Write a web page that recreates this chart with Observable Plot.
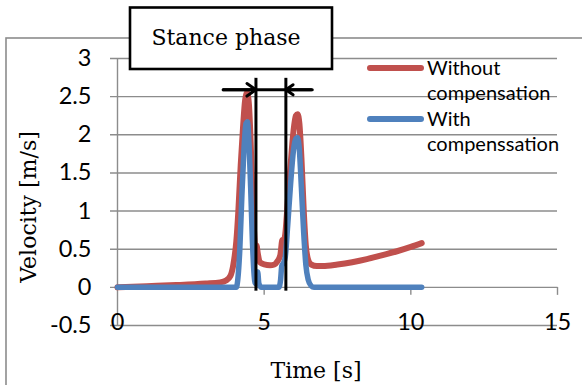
<!DOCTYPE html>
<html>
<head>
<meta charset="utf-8">
<script src="https://cdn.jsdelivr.net/npm/d3@7"></script>
<script src="https://cdn.jsdelivr.net/npm/@observablehq/plot@0.6"></script>
<style>
  html, body { margin: 0; padding: 0; background: #fff; }
  #chart { width: 582px; height: 385px; overflow: hidden; }
</style>
</head>
<body>
<div id="chart"></div>
<script>
// ---- data ----
const seriesNames = ["Without compensation", "With compenssation"];
const seriesColors = ["#C0504D", "#4F81BD"];

const timeRed = [0, 1, 2, 3, 3.5, 3.7, 3.85, 3.95, 4.05, 4.12, 4.2, 4.28, 4.35, 4.42, 4.48, 4.54, 4.6, 4.66, 4.7, 4.74, 4.78, 4.85, 5.0, 5.2, 5.35, 5.45, 5.55, 5.62, 5.66, 5.72, 5.8, 5.9, 6.0, 6.08, 6.14, 6.2, 6.27, 6.35, 6.42, 6.5, 6.6, 6.8, 7.0, 7.5, 8.0, 8.5, 9.0, 9.5, 10.0, 10.37];
const velRed  = [0, 0.015, 0.03, 0.05, 0.065, 0.09, 0.15, 0.3, 0.6, 1.0, 1.6, 2.1, 2.45, 2.55, 2.4, 1.9, 1.2, 0.7, 0.5, 0.55, 0.45, 0.33, 0.3, 0.29, 0.3, 0.34, 0.42, 0.62, 0.6, 0.7, 1.1, 1.6, 2.05, 2.25, 2.27, 2.15, 1.7, 1.0, 0.55, 0.36, 0.3, 0.28, 0.28, 0.3, 0.33, 0.37, 0.42, 0.47, 0.53, 0.58];

const timeBlue = [0, 4.05, 4.1, 4.17, 4.24, 4.31, 4.38, 4.43, 4.48, 4.54, 4.6, 4.66, 4.7, 4.74, 4.78, 4.82, 4.9, 5.5, 5.56, 5.6, 5.66, 5.72, 5.8, 5.9, 6.0, 6.08, 6.14, 6.2, 6.27, 6.35, 6.42, 6.5, 6.6, 6.7, 10.37];
const velBlue  = [0, 0, 0.1, 0.5, 1.2, 1.8, 2.15, 2.17, 1.9, 1.3, 0.6, 0.15, 0.05, 0.2, 0.2, 0.05, 0, 0, 0.1, 0.28, 0.32, 0.4, 0.8, 1.35, 1.8, 1.95, 1.96, 1.8, 1.3, 0.7, 0.3, 0.1, 0.02, 0, 0];

const stancePhase = [4.72, 5.74];   // start / end of stance phase [s]
const arrowLevel = 2.59;            // velocity level of the arrows
const arrowTails = [3.6, 6.64];     // arrow tails [s]

const xTicks = [0, 5, 10, 15];
const yTicks = [-0.5, 0, 0.5, 1, 1.5, 2, 2.5, 3];
const xLabel = "Time [s]";
const yLabel = "Velocity [m/s]";
const boxLabel = "Stance phase";

// ---- build tables ----
const red = timeRed.map((t, i) => ({t, v: velRed[i]}));
const blue = timeBlue.map((t, i) => ({t, v: velBlue[i]}));
const arrows = stancePhase.map((s, i) => ({x1: arrowTails[i], x2: s}));

const grid = "#8c8c8c";
const sans = "Lato, 'Open Sans', sans-serif";
const serif = "'DejaVu Serif', serif";

const chart = Plot.plot({
  width: 582,
  height: 385,
  marginLeft: 117,
  marginRight: 25,
  marginTop: 58,
  marginBottom: 60,
  style: {background: "transparent", overflow: "visible"},
  x: {domain: [0, 15], axis: null},
  y: {domain: [-0.5, 3], axis: null},
  marks: [
    Plot.ruleY(yTicks, {stroke: grid, strokeWidth: 1.4, insetLeft: -7}),
    Plot.ruleX([0], {stroke: grid, strokeWidth: 1.4}),
    Plot.ruleX(xTicks.slice(1), {y1: 0, y2: -0.105, stroke: grid, strokeWidth: 1.4}),
    Plot.text(yTicks, {x: 0, y: d => d, text: d => String(d), textAnchor: "end", dx: -26, fontSize: 23.5, fontFamily: sans, fill: "#000"}),
    Plot.text(xTicks, {x: d => d, y: -0.5, text: d => String(d), textAnchor: "middle", dy: -3, fontSize: 23.5, fontFamily: sans, fill: "#000"}),
    Plot.line(red, {x: "t", y: "v", stroke: seriesColors[0], strokeWidth: 6, curve: "monotone-x", strokeLinecap: "round", strokeLinejoin: "round"}),
    Plot.line(blue, {x: "t", y: "v", stroke: seriesColors[1], strokeWidth: 5.5, curve: "monotone-x", strokeLinecap: "round", strokeLinejoin: "round"}),
    Plot.ruleX(stancePhase, {y1: -0.05, y2: 2.74, stroke: "#000", strokeWidth: 3}),
    Plot.ruleY([arrowLevel], {x1: arrowTails[0], x2: arrowTails[1], stroke: "#000", strokeWidth: 3}),
    Plot.arrow(arrows, {x1: "x1", x2: "x2", y1: arrowLevel, y2: arrowLevel, stroke: "#000", strokeWidth: 3, headLength: 15, headAngle: 70})
  ]
});

const svg = d3.select(chart);
// outer chart-area border (behind everything)
svg.insert("rect", ":first-child")
  .attr("x", 6).attr("y", 38).attr("width", 700).attr("height", 500)
  .attr("fill", "none").attr("stroke", grid).attr("stroke-width", 1.6);

// axis titles
svg.append("text").attr("x", 316).attr("y", 378).attr("text-anchor", "middle")
  .attr("font-family", serif).attr("font-size", 22).attr("fill", "#000").text(xLabel);
svg.append("text").attr("transform", "translate(36,207) rotate(-90)").attr("text-anchor", "middle")
  .attr("font-family", serif).attr("font-size", 22).attr("fill", "#000").text(yLabel);

// stance phase box
const box = svg.append("g");
box.append("rect").attr("x", 130).attr("y", 7.5).attr("width", 202).attr("height", 61.5)
  .attr("fill", "#fff").attr("stroke", "#000").attr("stroke-width", 2.6);
box.append("text").attr("x", 226).attr("y", 39).attr("text-anchor", "middle").attr("dominant-baseline", "middle")
  .attr("font-family", serif).attr("font-size", 22).attr("fill", "#000").text(boxLabel);

// legend
const legendLines = [["Without", "compensation"], ["With", "compenssation"]];
const leg = svg.append("g");
seriesNames.forEach((name, i) => {
  const y0 = 68 + i * 51;
  leg.append("line").attr("x1", 370).attr("x2", 421).attr("y1", y0).attr("y2", y0)
    .attr("stroke", seriesColors[i]).attr("stroke-width", 6).attr("stroke-linecap", "round");
  legendLines[i].forEach((s, j) => {
    leg.append("text").attr("x", 427).attr("y", y0 + 7 + j * 25).attr("text-anchor", "start")
      .attr("font-family", sans).attr("font-size", 20).attr("fill", "#000").text(s);
  });
});

document.getElementById("chart").appendChild(chart);
</script>
</body>
</html>
